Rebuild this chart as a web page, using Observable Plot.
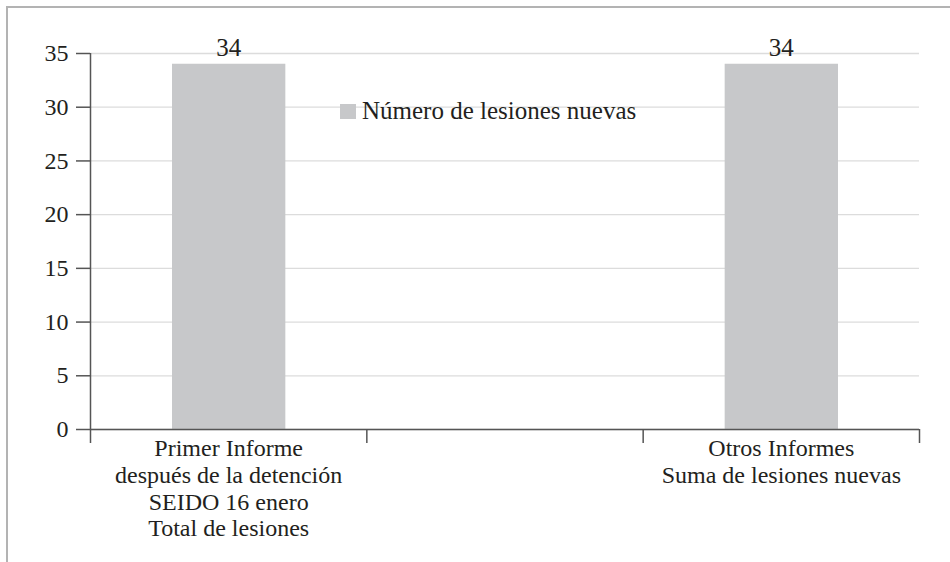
<!DOCTYPE html>
<html>
<head>
<meta charset="utf-8">
<script src="https://cdn.jsdelivr.net/npm/d3@7"></script>
<script src="https://cdn.jsdelivr.net/npm/@observablehq/plot@0.6"></script>
<style>
  html, body { margin: 0; padding: 0; background: #fff; }
  #wrap { position: relative; width: 950px; height: 562px; overflow: hidden; font-family: "Liberation Serif", "Times New Roman", serif; }
  #frame { position: absolute; left: 6px; top: 6px; width: 960px; height: 600px; border-top: 2px solid #b3b3b3; border-left: 2px solid #b3b3b3; pointer-events: none; }
  #legend { position: absolute; left: 340px; top: 97px; display: flex; align-items: center; font-size: 25px; color: #231f20; }
  #legend .sw { width: 16px; height: 15px; background: #c7c8ca; margin-right: 6px; }
</style>
</head>
<body>
<div id="wrap">
  <div id="chart"></div>
  <div id="frame"></div>
  <div id="legend"><div class="sw"></div><span id="legtext"></span></div>
</div>
<script>
const categories = [
  "Primer Informe\ndespués de la detención\nSEIDO 16 enero\nTotal de lesiones",
  "",
  "Otros Informes\nSuma de lesiones nuevas"
];
const values = [34, null, 34];
const seriesName = "Número de lesiones nuevas";
const yTicks = [0, 5, 10, 15, 20, 25, 30, 35];

const data = categories.map((c, i) => ({i, cat: c, v: values[i]})).filter(d => d.v != null);
const font = "Liberation Serif, Times New Roman, serif";
const ink = "#231f20";

document.getElementById("legtext").textContent = seriesName;

const chart = Plot.plot({
  width: 950,
  height: 562,
  marginLeft: 90,
  marginRight: 31,
  marginTop: 53,
  marginBottom: 133,
  style: {fontFamily: font, fontSize: "24px", color: ink, background: "transparent"},
  x: {type: "linear", domain: [0, categories.length]},
  y: {domain: [0, 35]},
  marks: [
    Plot.gridY(yTicks, {stroke: "#dcdcdc", strokeOpacity: 1, strokeWidth: 1.3}),
    Plot.rectY(data, {x1: d => d.i, x2: d => d.i + 1, y: "v", fill: "#c7c8ca", insetLeft: 82, insetRight: 81}),
    Plot.text(data, {x: d => d.i + 0.5, y: "v", text: d => String(d.v), dy: -16, fontSize: 25, fill: ink}),
    Plot.ruleX([0], {stroke: "#555", strokeWidth: 1.5}),
    Plot.ruleY([0], {stroke: "#555", strokeWidth: 1.5}),
    Plot.axisY(yTicks, {tickSize: 14, tickPadding: 8, stroke: "#555", strokeWidth: 1.5, fontSize: 24, fill: ink, label: null}),
    Plot.axisX(d3.range(categories.length + 1), {tickSize: 14, tickFormat: () => "", stroke: "#555", strokeWidth: 1.5, label: null}),
    Plot.axisX(categories.map((c, i) => i + 0.5), {tickSize: 0, tickPadding: 8, tickFormat: (d) => categories[Math.floor(d)], fontSize: 24, lineHeight: 1.11, fill: ink, label: null})
  ]
});
document.getElementById("chart").appendChild(chart);
</script>
</body>
</html>
